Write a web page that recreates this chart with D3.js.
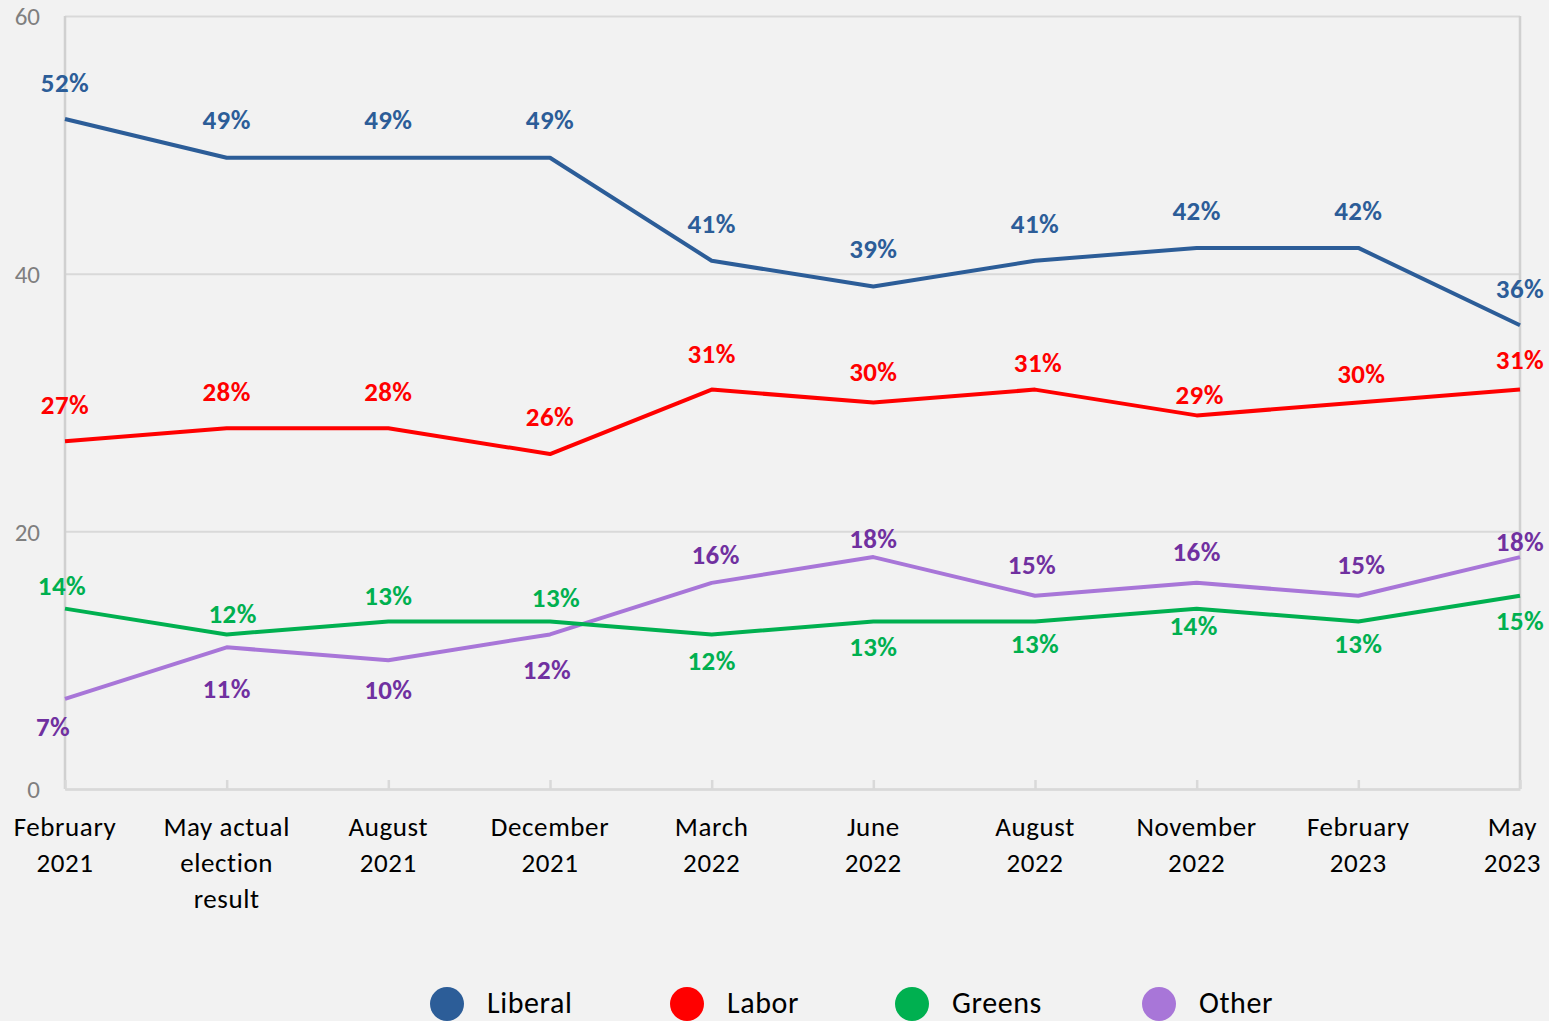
<!DOCTYPE html>
<html>
<head>
<meta charset="utf-8">
<script src="https://cdn.jsdelivr.net/npm/d3@7"></script>
<style>
  html, body { margin: 0; padding: 0; background: #f2f2f2; }
  svg { display: block; }
</style>
</head>
<body>
<svg id="chart" width="1549" height="1021"></svg>
<script>
// ---- data ----
const categories = [
  "February\n2021", "May actual\nelection\nresult", "August\n2021", "December\n2021",
  "March\n2022", "June\n2022", "August\n2022", "November\n2022", "February\n2023", "May\n2023"
];
const liberal = [52, 49, 49, 49, 41, 39, 41, 42, 42, 36];
const labor   = [27, 28, 28, 26, 31, 30, 31, 29, 30, 31];
const greens  = [14, 12, 13, 13, 12, 13, 13, 14, 13, 15];
const other   = [7, 11, 10, 12, 16, 18, 15, 16, 15, 18];
const yTicks  = [0, 20, 40, 60];
const seriesNames = ["Liberal", "Labor", "Greens", "Other"];

// ---- label placement (pixel offsets of value labels from their points) ----
const labelDy = {
  Liberal: [-37, -38, -38, -38, -37, -38, -37, -37, -37, -37],
  Labor:   [-37, -37, -37, -37, -36, -31, -27, -21, -29, -30],
  Greens:  [-23, -21, -26, -24, 26, 25, 22, 17, 22, 25],
  Other:   [28, 41, 29, 35, -28, -19, -31, -31, -31, -16]
};
const labelDx = {
  Liberal: [0, 0, 0, 0, 0, 0, 0, 0, 0, 0],
  Labor:   [0, 0, 0, 0, 0, 0, 3, 3, 3, 0],
  Greens:  [-3, 6, 0, 6, 0, 0, 0, -3, 0, 0],
  Other:   [-12, 0, 0, -3, 4, 0, -3, 0, 3, 0]
};

const lineColors  = { Liberal: "#2c5d98", Labor: "#ff0000", Greens: "#00b050", Other: "#a876d8" };
const labelColors = { Liberal: "#2c5d98", Labor: "#ff0000", Greens: "#00b050", Other: "#7030a0" };
const seriesData  = { Liberal: liberal, Labor: labor, Greens: greens, Other: other };

(function () {
// ---- layout ----
const svg = d3.select("#chart");
const W = 1549, H = 1021;
const pL = 65, pR = 1520, pT = 16, pB = 789;
const FONT = "Carlito, Calibri, Lato, 'Open Sans', sans-serif";

const x = d3.scalePoint().domain(d3.range(categories.length)).range([pL, pR]).padding(0);
const y = d3.scaleLinear().domain([0, 60]).range([pB, pT]);

svg.append("rect").attr("width", W).attr("height", H).attr("fill", "#f2f2f2");

// gridlines
const yAxis = d3.axisLeft(y).tickValues(yTicks).tickSize(-(pR - pL)).tickFormat(d => d);
const gy = svg.append("g").attr("transform", `translate(${pL},0)`).call(yAxis);
gy.select(".domain").remove();
gy.selectAll(".tick line").attr("stroke", "#d9d9d9").attr("stroke-width", 2);
gy.selectAll(".tick text")
  .attr("x", -25).attr("dy", "0.35em")
  .attr("fill", "#7f7f7f")
  .style("font-family", FONT).style("font-size", "25px");

// plot frame
svg.append("line").attr("x1", pR).attr("x2", pR).attr("y1", pT).attr("y2", pB)
  .attr("stroke", "#d0d0d0").attr("stroke-width", 2.5);
svg.append("line").attr("x1", pL).attr("x2", pL).attr("y1", pT).attr("y2", pB)
  .attr("stroke", "#d0d0d0").attr("stroke-width", 2.5);

// x axis
const xAxis = d3.axisBottom(x).tickSizeInner(-9).tickSizeOuter(0).tickFormat("");
const gx = svg.append("g").attr("transform", `translate(0,${pB})`).call(xAxis);
gx.select(".domain").attr("stroke", "#d9d9d9").attr("stroke-width", 2.5);
gx.selectAll(".tick line").attr("stroke", "#d9d9d9").attr("stroke-width", 2.5);

// x labels
const xl = svg.append("g");
categories.forEach((c, i) => {
  const lines = c.split("\n");
  const t = xl.append("text")
    .attr("x", x(i))
    .attr("y", 836)
    .attr("text-anchor", "middle")
    .attr("fill", "#000")
    .style("font-family", FONT).style("font-size", "27px").style("letter-spacing", "0.6px");
  lines.forEach((ln, j) => {
    t.append("tspan").attr("x", x(i)).attr("dy", j === 0 ? 0 : 36).text(ln);
  });
  const bb = t.node().getBBox();
  const maxRight = W - 8;
  if (bb.x + bb.width > maxRight) {
    const shift = bb.x + bb.width - maxRight;
    t.selectAll("tspan").attr("x", x(i) - shift);
  }
  if (bb.x < 8) {
    const shift = 8 - bb.x;
    t.selectAll("tspan").attr("x", x(i) + shift);
  }
});

// lines
const lineGen = d3.line().x((d, i) => x(i)).y(d => y(d));
const drawOrder = ["Other", "Greens", "Labor", "Liberal"];
drawOrder.forEach(name => {
  svg.append("path")
    .datum(seriesData[name])
    .attr("d", lineGen)
    .attr("fill", "none")
    .attr("stroke", lineColors[name])
    .attr("stroke-width", 4)
    .attr("stroke-linejoin", "round");
});

// value labels
seriesNames.forEach(name => {
  svg.append("g").selectAll("text")
    .data(seriesData[name])
    .join("text")
    .attr("x", (d, i) => x(i) + labelDx[name][i])
    .attr("y", (d, i) => y(d) + labelDy[name][i])
    .attr("dy", "0.35em")
    .attr("text-anchor", "middle")
    .attr("fill", labelColors[name])
    .style("font-family", FONT).style("font-size", "27px").style("font-weight", "bold")
    .style("letter-spacing", "0.4px")
    .text(d => d + "%");
});

// legend
const legendX = [447, 687, 912, 1159];
const lg = svg.append("g");
seriesNames.forEach((name, i) => {
  lg.append("circle").attr("cx", legendX[i]).attr("cy", 1004).attr("r", 17)
    .attr("fill", lineColors[name]);
  lg.append("text").attr("x", legendX[i] + 40).attr("y", 1013)
    .attr("fill", "#000")
    .style("font-family", FONT).style("font-size", "30px").style("letter-spacing", "0.6px")
    .text(name);
});
})();
</script>
</body>
</html>
